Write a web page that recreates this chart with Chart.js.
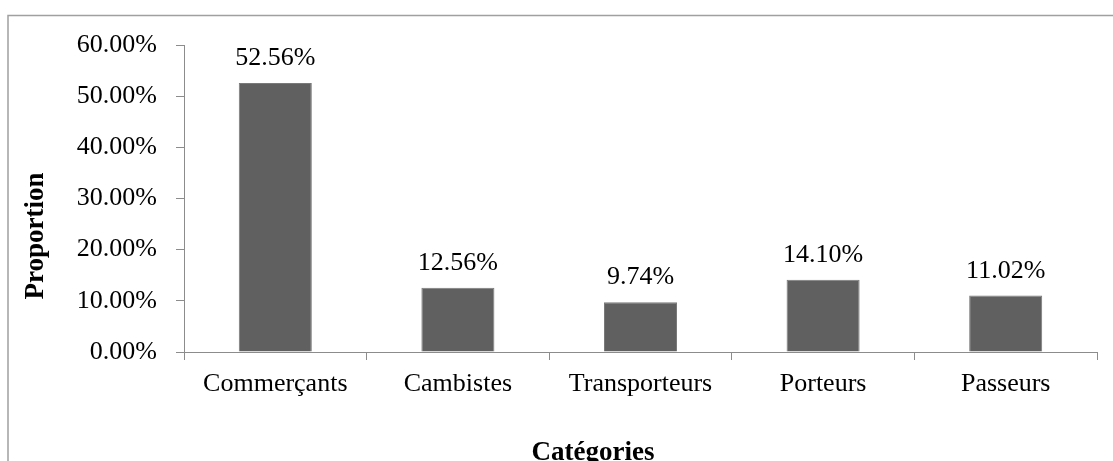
<!DOCTYPE html>
<html>
<head>
<meta charset="utf-8">
<script src="https://cdn.jsdelivr.net/npm/chart.js@4.4.1/dist/chart.umd.min.js"></script>
<style>
  html, body { margin: 0; padding: 0; background: #fff; }
  #wrap { width: 1113px; height: 461px; position: relative; }
</style>
</head>
<body>
<div id="wrap"><canvas id="c" width="1113" height="461"></canvas></div>
<script>
// Répartition des acteurs par catégorie
const categories = ['Commerçants', 'Cambistes', 'Transporteurs', 'Porteurs', 'Passeurs'];
const proportions = [52.56, 12.56, 9.74, 14.10, 11.02];
const yTicks = [0, 10, 20, 30, 40, 50, 60];
const xTitle = 'Catégories';
const yTitle = 'Proportion';

const FONT = '"Liberation Serif", "Times New Roman", serif';
const AXIS = '#8c8c8c';

// Cadre extérieur, libellés de valeur et titres des axes
const decor = {
  id: 'decor',
  beforeDraw(chart) {
    const ctx = chart.ctx;
    ctx.save();
    ctx.fillStyle = '#fff';
    ctx.fillRect(0, 0, chart.width, chart.height);
    ctx.strokeStyle = '#a0a0a0';
    ctx.lineWidth = 1.5;
    ctx.strokeRect(8, 15.5, chart.width + 20, chart.height + 20);
    ctx.restore();
  },
  afterDatasetsDraw(chart) {
    const ctx = chart.ctx;
    const meta = chart.getDatasetMeta(0);
    ctx.save();
    ctx.fillStyle = '#000';
    ctx.font = '26px ' + FONT;
    ctx.textAlign = 'center';
    ctx.textBaseline = 'alphabetic';
    meta.data.forEach((bar, i) => {
      ctx.fillText(proportions[i].toFixed(2) + '%', bar.x, bar.y - 18);
    });
    ctx.font = 'bold 27px ' + FONT;
    ctx.fillText(xTitle, 593, 460);
    ctx.translate(43, 236);
    ctx.rotate(-Math.PI / 2);
    ctx.fillText(yTitle, 0, 0);
    ctx.restore();
  }
};

new Chart(document.getElementById('c'), {
  type: 'bar',
  data: {
    labels: categories,
    datasets: [{
      data: proportions,
      backgroundColor: '#606060',
      borderColor: '#7a7a7a',
      borderWidth: 1,
      categoryPercentage: 1,
      barPercentage: 0.4
    }]
  },
  options: {
    responsive: false,
    animation: false,
    devicePixelRatio: 1,
    layout: { padding: { left: 0, right: 16, top: 45, bottom: 0 } },
    plugins: { legend: { display: false }, tooltip: { enabled: false } },
    scales: {
      x: {
        afterFit(s) { s.height = 109; },
        grid: { drawOnChartArea: false, offset: true, tickLength: 8, color: AXIS, lineWidth: 1 },
        border: { color: AXIS, width: 1 },
        ticks: { color: '#000', font: { family: FONT, size: 26 }, padding: 9, maxRotation: 0 }
      },
      y: {
        min: 0, max: 60,
        afterFit(s) { s.width = 184; },
        afterBuildTicks(s) { s.ticks = yTicks.map(v => ({ value: v })); },
        grid: { drawOnChartArea: false, tickLength: 8, color: AXIS, lineWidth: 1 },
        border: { color: AXIS, width: 1 },
        ticks: {
          color: '#000', font: { family: FONT, size: 26 }, padding: 19,
          callback: v => v.toFixed(2) + '%'
        }
      }
    }
  },
  plugins: [decor]
});
</script>
</body>
</html>
